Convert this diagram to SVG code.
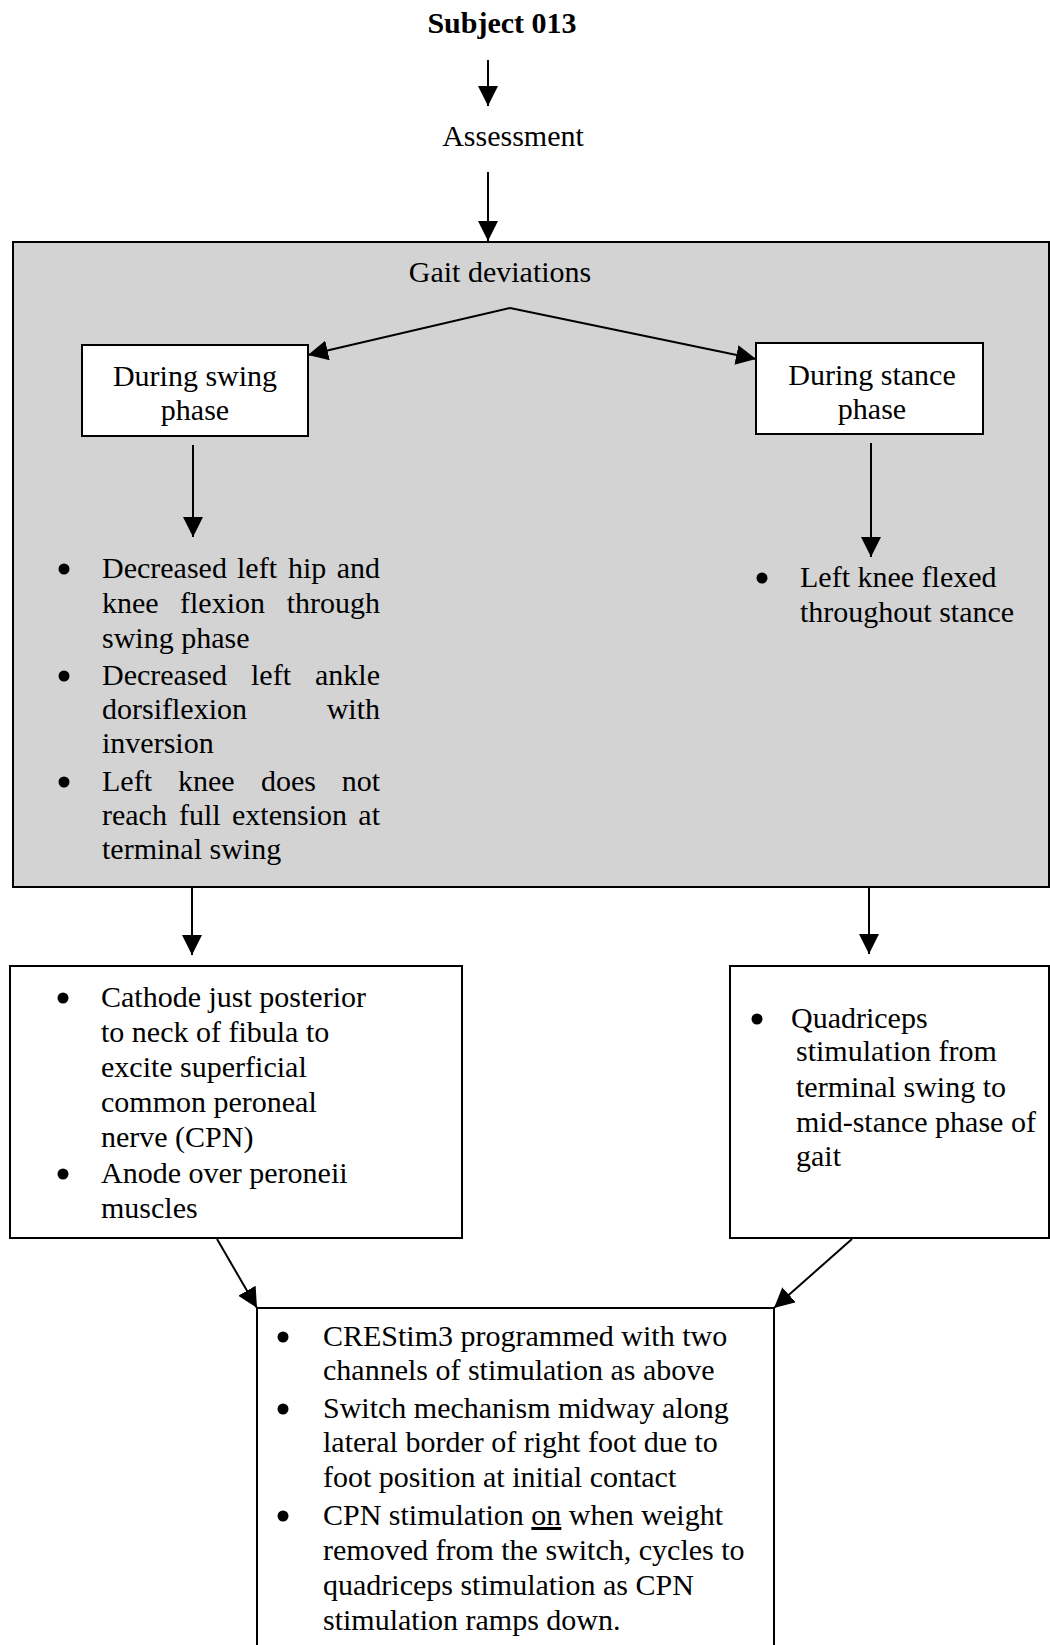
<svg xmlns="http://www.w3.org/2000/svg" width="1050" height="1645" viewBox="0 0 1050 1645">
  <style>
    text { font-family: "Liberation Serif", "Times New Roman", serif; font-size: 30px; fill: #000; }
    .bold { font-weight: bold; }
    .mid { text-anchor: middle; }
    .end { text-anchor: end; }
    .box { fill: #fff; stroke: #000; stroke-width: 2; }
    .panel { fill: #d3d3d3; stroke: #000; stroke-width: 2; }
    .link { fill: none; stroke: #000; stroke-width: 2; marker-end: url(#arrow); }
    .dot { fill: #000; }
  </style>
  <defs>
    <marker id="arrow" viewBox="0 0 20 20" refX="20" refY="10" markerWidth="20" markerHeight="20" markerUnits="userSpaceOnUse" orient="auto">
      <path d="M0,0 L20,10 L0,20 z" fill="#000"/>
    </marker>
  </defs>

  <rect width="1050" height="1645" fill="#fff"/>

  <!-- title and assessment -->
  <g id="subject">
    <text class="bold mid" x="502" y="33">Subject 013</text>
  </g>
  <g id="assessment">
    <text class="mid" x="513" y="146">Assessment</text>
  </g>

  <!-- shaded gait deviations panel -->
  <g id="gait-deviations">
    <rect class="panel" x="13" y="242" width="1036" height="645"/>
    <text class="mid" x="500" y="282">Gait deviations</text>
  </g>

  <g id="swing-phase">
    <rect class="box" x="82" y="345" width="226" height="91"/>
    <text class="mid" x="195" y="386">During swing</text>
    <text class="mid" x="195" y="420">phase</text>
  </g>

  <g id="stance-phase">
    <rect class="box" x="756" y="343" width="227" height="91"/>
    <text class="mid" x="872" y="385">During stance</text>
    <text class="mid" x="872" y="419">phase</text>
  </g>

  <!-- swing deviations, justified column -->
  <g id="swing-deviations">
    <circle class="dot" cx="64" cy="569" r="5.5"/>
    <text x="102" y="578">Decreased</text>
    <text x="237" y="578">left</text>
    <text x="288" y="578">hip</text>
    <text class="end" x="380" y="578">and</text>
    <text x="102" y="613">knee</text>
    <text x="180" y="613">flexion</text>
    <text class="end" x="380" y="613">through</text>
    <text x="102" y="648">swing phase</text>
    <circle class="dot" cx="64" cy="676" r="5.5"/>
    <text x="102" y="685">Decreased</text>
    <text x="251" y="685">left</text>
    <text class="end" x="380" y="685">ankle</text>
    <text x="102" y="719">dorsiflexion</text>
    <text class="end" x="380" y="719">with</text>
    <text x="102" y="753">inversion</text>
    <circle class="dot" cx="64" cy="782" r="5.5"/>
    <text x="102" y="791">Left</text>
    <text x="178" y="791">knee</text>
    <text x="261" y="791">does</text>
    <text class="end" x="380" y="791">not</text>
    <text x="102" y="825">reach</text>
    <text x="179" y="825">full</text>
    <text x="232" y="825">extension</text>
    <text class="end" x="380" y="825">at</text>
    <text x="102" y="859">terminal swing</text>
  </g>

  <g id="stance-deviations">
    <circle class="dot" cx="762" cy="578" r="5.5"/>
    <text x="800" y="587">Left knee flexed</text>
    <text x="800" y="622">throughout stance</text>
  </g>

  <g id="cpn-electrodes">
    <rect class="box" x="10" y="966" width="452" height="272"/>
    <circle class="dot" cx="63" cy="998" r="5.5"/>
    <text x="101" y="1007">Cathode just posterior</text>
    <text x="101" y="1042">to neck of fibula to</text>
    <text x="101" y="1077">excite superficial</text>
    <text x="101" y="1112">common peroneal</text>
    <text x="101" y="1147">nerve (CPN)</text>
    <circle class="dot" cx="63" cy="1174" r="5.5"/>
    <text x="101" y="1183">Anode over peroneii</text>
    <text x="101" y="1218">muscles</text>
  </g>

  <g id="quadriceps">
    <rect class="box" x="730" y="966" width="319" height="272"/>
    <circle class="dot" cx="757" cy="1019" r="5.5"/>
    <text x="791" y="1028">Quadriceps</text>
    <text x="796" y="1061">stimulation from</text>
    <text x="796" y="1097">terminal swing to</text>
    <text x="796" y="1132">mid-stance phase of</text>
    <text x="796" y="1166">gait</text>
  </g>

  <g id="crestim-program">
    <rect class="box" x="257" y="1308" width="517" height="360"/>
    <circle class="dot" cx="283" cy="1337" r="5.5"/>
    <text x="323" y="1346">CREStim3 programmed with two</text>
    <text x="323" y="1380">channels of stimulation as above</text>
    <circle class="dot" cx="283" cy="1409" r="5.5"/>
    <text x="323" y="1418">Switch mechanism midway along</text>
    <text x="323" y="1452">lateral border of right foot due to</text>
    <text x="323" y="1487">foot position at initial contact</text>
    <circle class="dot" cx="283" cy="1516" r="5.5"/>
    <text x="323" y="1525">CPN stimulation <tspan text-decoration="underline">on</tspan> when weight</text>
    <text x="323" y="1560">removed from the switch, cycles to</text>
    <text x="323" y="1595">quadriceps stimulation as CPN</text>
    <text x="323" y="1630">stimulation ramps down.</text>
  </g>

  <!-- connectors -->
  <g id="connectors">
    <line class="link" x1="488" y1="60" x2="488" y2="106"/>
    <line class="link" x1="488" y1="172" x2="488" y2="241"/>
    <line class="link" x1="510" y1="308" x2="308" y2="355"/>
    <line class="link" x1="510" y1="308" x2="756" y2="359"/>
    <line class="link" x1="193" y1="445" x2="193" y2="537"/>
    <line class="link" x1="871" y1="443" x2="871" y2="557"/>
    <line class="link" x1="192" y1="888" x2="192" y2="955"/>
    <line class="link" x1="869" y1="888" x2="869" y2="954"/>
    <line class="link" x1="217" y1="1239" x2="257" y2="1308"/>
    <line class="link" x1="852" y1="1239" x2="774" y2="1308"/>
  </g>
</svg>
